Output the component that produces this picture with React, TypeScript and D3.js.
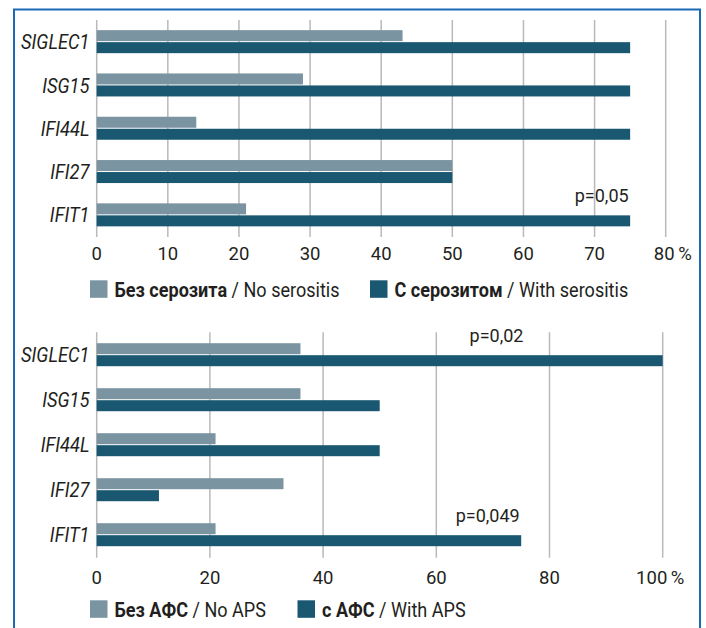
import React from "react";
import * as d3 from "d3";

const genes = ["SIGLEC1", "ISG15", "IFI44L", "IFI27", "IFIT1"];

const serositisNo = [43, 29, 14, 50, 21];
const serositisYes = [75, 75, 75, 50, 75];
const serositisTicks = [0, 10, 20, 30, 40, 50, 60, 70, 80];
const serositisLegend = [
  { bold: "Без серозита", rest: " / No serositis" },
  { bold: "С серозитом", rest: " / With serositis" },
];
const serositisP = [{ gene: "IFIT1", label: "p=0,05" }];

const apsNo = [36, 36, 21, 33, 21];
const apsYes = [100, 50, 50, 11, 75];
const apsTicks = [0, 20, 40, 60, 80, 100];
const apsLegend = [
  { bold: "Без АФС", rest: " / No APS" },
  { bold: "с АФС", rest: " / With APS" },
];
const apsP = [
  { gene: "SIGLEC1", label: "p=0,02", center: true },
  { gene: "IFIT1", label: "p=0,049" },
];

const LIGHT = "#7b94a2";
const DARK = "#1a5872";
const GRID = "#b9b9b9";
const TEXT = "#231f20";
const FONT = "Roboto, 'Liberation Sans', Arial, sans-serif";

type Legend = { bold: string; rest: string };
type PNote = { gene: string; label: string; center?: boolean };

function Panel(props: {
  no: number[];
  yes: number[];
  ticks: number[];
  max: number;
  top: number;
  step: number;
  tickY: number;
  legendY: number;
  legend: Legend[];
  legendX2: number;
  notes: PNote[];
  pctGap: number;
  lastShift: number;
}) {
  const { no, yes, ticks, max, top, step, tickY, legendY, legend, legendX2, notes, pctGap, lastShift } = props;
  const x0 = 96.7;
  const xEnd = max === 80 ? 665.7 : 662.7;
  const x = d3.scaleLinear().domain([0, max]).range([x0, xEnd]);
  const y = d3
    .scaleBand<string>()
    .domain(genes)
    .range([top, top + step * genes.length])
    .paddingInner(0)
    .paddingOuter(0);
  const bh = 11;
  const centerOf = (g: string) => (y(g) as number) + y.bandwidth() / 2;
  const gridTop = top;
  const gridBottom = top + step * genes.length + 0.5;
  return (
    <g>
      {ticks.map((t) => (
        <line
          key={"g" + t}
          x1={x(t)}
          x2={x(t)}
          y1={gridTop}
          y2={gridBottom}
          stroke={GRID}
          strokeWidth={1.5}
        />
      ))}
      {genes.map((g, i) => {
        const c = centerOf(g);
        return (
          <g key={g}>
            <rect x={x(0)} y={c - bh - 0.5} width={x(no[i]) - x(0)} height={bh} fill={LIGHT} />
            <rect x={x(0)} y={c + 0.5} width={x(yes[i]) - x(0)} height={bh} fill={DARK} />
            <text
              transform={`translate(89.5,${c}) scale(0.87,1)`}
              dy="0.36em"
              textAnchor="end"
              fontStyle="italic"
              fontSize={21}
              fill={TEXT}
              fontFamily={FONT}
            >
              {g}
            </text>
          </g>
        );
      })}
      {notes.map((n) => {
        const i = genes.indexOf(n.gene);
        const c = centerOf(n.gene);
        const xe = x(yes[i]);
        return (
          <text
            key={n.label}
            x={n.center ? 496.5 : xe - 1.5}
            y={c - bh - 1.5}
            textAnchor={n.center ? "middle" : "end"}
            fontSize={18}
            fill={TEXT}
            fontFamily={FONT}
          >
            {n.label}
          </text>
        );
      })}
      {ticks.map((t, i) => {
        const last = i === ticks.length - 1;
        return (
          <g key={"t" + t}>
            <text
              x={x(t) + (last ? lastShift : 0)}
              y={tickY}
              dy="0.36em"
              textAnchor="middle"
              fontSize={18.5}
              fill={TEXT}
              fontFamily={FONT}
            >
              {t}
            </text>
            {last && (
              <text x={x(t) + pctGap} y={tickY} dy="0.36em" fontSize={18.5} fill={TEXT} fontFamily={FONT}>
                %
              </text>
            )}
          </g>
        );
      })}
      {legend.map((l, i) => {
        const lx = i === 0 ? 90 : legendX2;
        return (
          <g key={l.bold}>
            <rect x={lx} y={legendY - 8.7} width={17.5} height={17.5} fill={i === 0 ? LIGHT : DARK} />
            <text
              transform={`translate(${lx + 24.5},${legendY}) scale(0.86,1)`}
              dy="0.36em"
              fontSize={21}
              fill={TEXT}
              fontFamily={FONT}
            >
              <tspan fontWeight="bold">{l.bold}</tspan>
              <tspan>{l.rest}</tspan>
            </text>
          </g>
        );
      })}
    </g>
  );
}

export default function App() {
  return (
    <svg
      width={706}
      height={628}
      style={{ position: "absolute", left: 0, top: 0, background: "#fff" }}
    >
      <rect x={0} y={0} width={706} height={628} fill="#fff" />
      <rect x={14} y={9.5} width={686} height={640} fill="none" stroke="#1b6ab5" strokeWidth={2} />
      <Panel
        no={serositisNo}
        yes={serositisYes}
        ticks={serositisTicks}
        max={80}
        top={20}
        step={43.3}
        tickY={253}
        legendY={289}
        legend={serositisLegend}
        legendX2={370}
        notes={serositisP}
        pctGap={12.5}
        lastShift={-1.5}
      />
      <Panel
        no={apsNo}
        yes={apsYes}
        ticks={apsTicks}
        max={100}
        top={332.2}
        step={45}
        tickY={577}
        legendY={609}
        legend={apsLegend}
        legendX2={297.5}
        notes={apsP}
        pctGap={8}
        lastShift={-11}
      />
    </svg>
  );
}
